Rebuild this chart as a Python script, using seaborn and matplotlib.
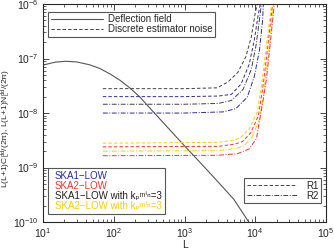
import numpy as np
import pandas as pd
import matplotlib
matplotlib.use("Agg")
import matplotlib.pyplot as plt
from matplotlib.lines import Line2D
import seaborn as sns

# values
defl_L = [10, 15, 21, 30, 45, 63, 90, 122, 170, 234, 330, 630, 1000, 1700, 3000, 5000, 8100, 10000]
defl_v = [7.6e-8, 8.6e-8, 8.9e-8, 8.65e-8, 7.7e-8, 6.6e-8, 5.15e-8, 4.0e-8, 2.86e-8, 1.96e-8,
          1.2e-8, 4.8e-9, 2.5e-9, 1.2e-9, 5.4e-10, 2.6e-10, 1.0e-10, 7.5e-11]

# SKA1-LOW with kp=3, R1 (black dashed)
ska1k_r1_L = [70, 1000, 2900, 4100, 5700, 7400, 8800, 10000, 10700]
ska1k_r1_v = [2.8e-8, 2.8e-8, 2.9e-8, 3.7e-8, 5.6e-8, 1.1e-7, 2.5e-7, 6.9e-7, 1.0e-6]
# SKA1-LOW, R1 (blue dashed)
ska1_r1_L = [70, 1000, 3000, 4600, 6300, 8200, 9700, 11000, 11800]
ska1_r1_v = [2.0e-8, 2.0e-8, 2.05e-8, 2.2e-8, 3.4e-8, 7.8e-8, 2.2e-7, 6.3e-7, 1.0e-6]
# SKA1-LOW with kp=3, R2 (black dash-dot)
ska1k_r2_L = [70, 1000, 3000, 4600, 6700, 8800, 10300, 11700, 12200]
ska1k_r2_v = [1.45e-8, 1.45e-8, 1.5e-8, 1.7e-8, 2.7e-8, 6.3e-8, 1.8e-7, 6.3e-7, 1.0e-6]
# SKA1-LOW, R2 (blue dash-dot)
ska1_r2_L = [70, 1000, 3500, 5300, 7700, 9700, 11500, 12700, 13000]
ska1_r2_v = [1.0e-8, 1.0e-8, 1.05e-8, 1.2e-8, 1.95e-8, 4.7e-8, 1.45e-7, 5.1e-7, 1.0e-6]

# SKA2-LOW with kp=3, R1 (yellow dashed)
ska2k_r1_L = [70, 3000, 5000, 6300, 8200, 10700, 12600, 14400, 17000]
ska2k_r1_v = [2.8e-9, 2.9e-9, 3.2e-9, 3.6e-9, 5.1e-9, 1.05e-8, 4.2e-8, 1.8e-7, 1.0e-6]
# SKA2-LOW, R1 (red dashed)
ska2_r1_L = [70, 3000, 5200, 6600, 8600, 11100, 13100, 15000, 17600]
ska2_r1_v = [2.4e-9, 2.45e-9, 2.7e-9, 3.0e-9, 4.3e-9, 9.0e-9, 3.7e-8, 1.6e-7, 1.0e-6]
# SKA2-LOW with kp=3, R2 (yellow dash-dot)
ska2k_r2_L = [70, 3000, 5400, 6900, 9000, 11600, 13600, 15600, 18100]
ska2k_r2_v = [2.0e-9, 2.05e-9, 2.25e-9, 2.5e-9, 3.6e-9, 8.0e-9, 3.3e-8, 1.5e-7, 1.0e-6]
# SKA2-LOW, R2 (red dash-dot)
ska2_r2_L = [70, 3000, 5600, 8200, 10400, 11400, 13000, 14400, 16500, 18600]
ska2_r2_v = [1.65e-9, 1.68e-9, 1.8e-9, 2.2e-9, 3.4e-9, 6.9e-9, 1.8e-8, 4.2e-8, 2.2e-7, 1.0e-6]

exp_labels = ["SKA1\u2212LOW", "SKA2\u2212LOW",
              "SKA1\u2212LOW with k\u209a\u1d50\u2071\u207f=3",
              "SKA2\u2212LOW with k\u209a\u1d50\u2071\u207f=3"]

c_blue = "#2a2aa0"
c_red = "#ff3030"
c_black = "#404040"
c_yellow = "#ffcc00"

dash = (0, (3.5, 2.2))
dashdot = (0, (5, 1.6, 1, 1.6))

sns.set_style("ticks")
plt.rcParams["font.family"] = ["Liberation Sans", "DejaVu Sans"]
plt.rcParams["mathtext.fontset"] = "custom"
plt.rcParams["mathtext.rm"] = "Liberation Sans"
plt.rcParams["mathtext.it"] = "Liberation Sans"

fig = plt.figure(figsize=(3.34, 2.49), dpi=100)
ax = fig.add_axes([0.129, 0.108, 0.847, 0.876])
ax.set_xscale("log")
ax.set_yscale("log")

sns.lineplot(x=defl_L, y=defl_v, ax=ax, color="#555555", lw=0.8, legend=False)

curves = [
    (ska1k_r1_L, ska1k_r1_v, c_black, dash),
    (ska1_r1_L, ska1_r1_v, c_blue, dash),
    (ska1k_r2_L, ska1k_r2_v, c_black, dashdot),
    (ska1_r2_L, ska1_r2_v, c_blue, dashdot),
    (ska2k_r1_L, ska2k_r1_v, c_yellow, dash),
    (ska2_r1_L, ska2_r1_v, c_red, dash),
    (ska2k_r2_L, ska2k_r2_v, c_yellow, dashdot),
    (ska2_r2_L, ska2_r2_v, c_red, dashdot),
]
for xs, ys, col, ls in curves:
    sns.lineplot(x=xs, y=ys, ax=ax, color=col, lw=0.7, linestyle=ls, legend=False)

ax.set_xlim(10, 1e5)
ax.set_ylim(1e-10, 1e-6)
ax.set_xlabel("L", fontsize=7.5, labelpad=0)
ax.set_ylabel(r"L(L+1)C$^{dd}_L$/(2$\pi$), L(L+1)N$^{dd}_L$/(2$\pi$)", fontsize=6.1)
ax.yaxis.set_label_coords(-0.108, 0.43)
ax.tick_params(which="both", direction="in", top=True, right=True, labelsize=7.5, pad=3)
ax.tick_params(which="major", length=4, width=0.6)
ax.tick_params(which="minor", length=2, width=0.5)
for s in ax.spines.values():
    s.set_linewidth(0.8)

# legend: line types
h1 = [Line2D([], [], color="#555555", lw=0.8),
      Line2D([], [], color=c_black, lw=0.7, linestyle=dash)]
leg1 = ax.legend(h1, ["Deflection field", "Discrete estimator noise"], loc="upper left",
                 bbox_to_anchor=(0.018, 0.963), fontsize=7, handlelength=5.4, fancybox=False,
                 edgecolor="#555555", framealpha=1, borderpad=0.25, labelspacing=0.0,
                 handletextpad=0.5, borderaxespad=0)
leg1.get_frame().set_linewidth(0.8)
ax.add_artist(leg1)

# legend: experiments (text only)
colors2 = [c_blue, c_red, "#202020", c_yellow]
h2 = [Line2D([], [], lw=0) for _ in exp_labels]
leg2 = ax.legend(h2, exp_labels, loc="lower left", bbox_to_anchor=(0.018, 0.037), fontsize=7,
                 handlelength=0, handletextpad=0.4, fancybox=False, edgecolor="#555555",
                 framealpha=1, borderpad=0.3, labelspacing=0.0, borderaxespad=0)
leg2.get_frame().set_linewidth(0.8)
for t, c in zip(leg2.get_texts(), colors2):
    t.set_color(c)
ax.add_artist(leg2)

# legend: R1 / R2
h3 = [Line2D([], [], color=c_black, lw=0.7, linestyle=dash),
      Line2D([], [], color=c_black, lw=0.7, linestyle=dashdot)]
leg3 = ax.legend(h3, ["R1", "R2"], loc="lower right", bbox_to_anchor=(0.982, 0.087),
                 fontsize=7, handlelength=5.2, fancybox=False, edgecolor="#555555",
                 framealpha=1, borderpad=0.25, labelspacing=0.0, handletextpad=0.9,
                 borderaxespad=0)
leg3.get_frame().set_linewidth(0.8)

fig.savefig("out.png", dpi=100)
